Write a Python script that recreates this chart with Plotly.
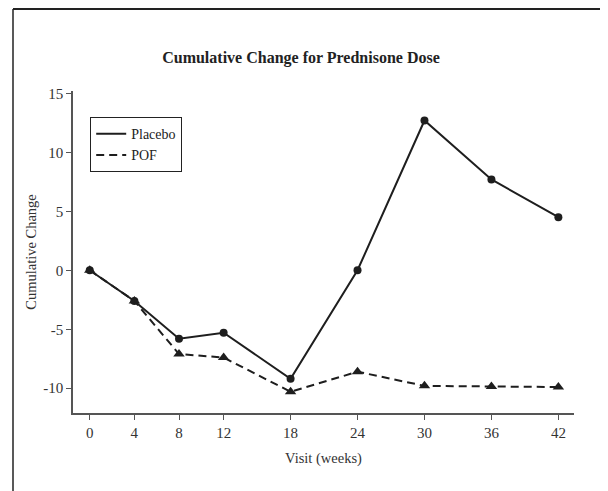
import plotly.graph_objects as go

visits = [0, 4, 8, 12, 18, 24, 30, 36, 42]
placebo = [0, -2.6, -5.8, -5.3, -9.2, 0.0, 12.7, 7.7, 4.5]
pof = [0, -2.6, -7.1, -7.4, -10.3, -8.6, -9.8, -9.85, -9.9]
y_ticks = [-10, -5, 0, 5, 10, 15]
y_tick_labels = ["-10", "-5", "0", "5", "10", "15"]
x_tick_labels = ["0", "4", "8", "12", "18", "24", "30", "36", "42"]

FONT = "Liberation Serif"
INK = "#1e1e1e"
DASH = "8px,5px"

# figure sized so the page (with its 8px body margin) fills the window
W, H = 600, 483
L, R, T, B = 65, 566, 83, 405

fig = go.Figure()
fig.add_trace(go.Scatter(
    x=visits, y=placebo, name="Placebo", mode="lines+markers", showlegend=False,
    line=dict(color=INK, width=2),
    marker=dict(symbol="circle", size=8, color=INK),
))
fig.add_trace(go.Scatter(
    x=visits, y=pof, name="POF", mode="lines+markers", showlegend=False,
    line=dict(color=INK, width=2, dash=DASH),
    marker=dict(symbol="triangle-up", size=10, color=INK),
))
# legend entries (line samples only)
fig.add_trace(go.Scatter(x=[None], y=[None], name="Placebo", mode="lines",
                         line=dict(color=INK, width=2)))
fig.add_trace(go.Scatter(x=[None], y=[None], name="POF", mode="lines",
                         line=dict(color=INK, width=2, dash=DASH)))

axis_common = dict(
    showline=True, linecolor="#555555", linewidth=1.5,
    ticks="outside", ticklen=5, tickcolor="#555555", tickwidth=1.2,
    showgrid=False, zeroline=False,
    tickfont=dict(family=FONT, size=15, color="#333333"),
)

fig.update_layout(
    width=W, height=H,
    margin=dict(l=L, r=W - R, t=T, b=H - B),
    paper_bgcolor="white", plot_bgcolor="white",
    font=dict(family=FONT, color="#333333"),
    title=dict(
        text="<b>Cumulative Change for Prednisone Dose</b>",
        font=dict(family=FONT, size=16, color="#222222"),
        x=293 / W, xanchor="center", y=1 - 49 / H, yanchor="middle",
    ),
    xaxis=dict(
        range=[-1.5, 43.4], tickvals=visits, ticktext=x_tick_labels,
        title=dict(text="Visit (weeks)", font=dict(family=FONT, size=14.5, color="#333333"), standoff=13),
        **axis_common,
    ),
    yaxis=dict(
        range=[-12.1, 15.2], tickvals=y_ticks, ticktext=y_tick_labels,
        title=dict(text="Cumulative Change", font=dict(family=FONT, size=14.5, color="#333333"), standoff=3),
        **axis_common,
    ),
    legend=dict(
        x=(82 - L) / (R - L), y=(B - 109) / (B - T), xanchor="left", yanchor="top",
        bordercolor="#222222", borderwidth=1.2, bgcolor="white",
        font=dict(family=FONT, size=14, color="#222222"),
        tracegroupgap=0,
    ),
    showlegend=True,
)

# outer frame (top and left edges visible)
fx = (5 - L) / (R - L)
fy = (B - 1) / (B - T)
fig.add_shape(type="line", xref="paper", yref="paper",
              x0=fx, x1=1.2, y0=fy, y1=fy,
              line=dict(color="#222222", width=2))
fig.add_shape(type="line", xref="paper", yref="paper",
              x0=fx, x1=fx, y0=fy, y1=-0.5,
              line=dict(color="#222222", width=1.5))

fig.write_html("out.html")
